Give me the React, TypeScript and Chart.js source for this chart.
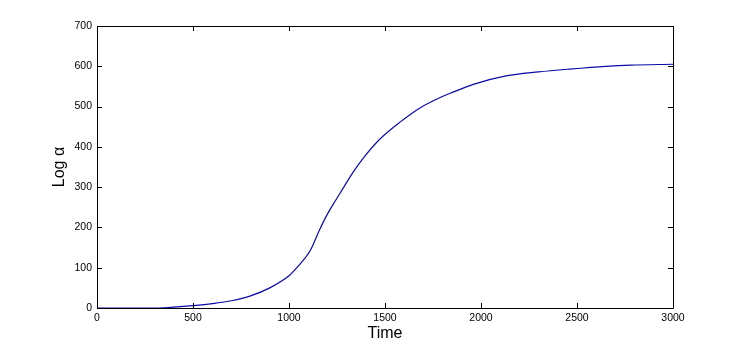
import React, { useEffect, useRef } from "react";
import { Chart, registerables } from "chart.js";

Chart.register(...registerables);

const times = [0, 100, 200, 300, 350, 400, 500, 600, 700, 800, 900, 1000, 1050, 1110, 1160, 1200, 1240, 1275, 1335, 1390, 1475, 1580, 1680, 1790, 1840, 1960, 2130, 2300, 2460, 2650, 2780, 3000];
const logAlpha = [0, 0, 0, 0, 0.5, 2, 6, 11, 18, 30, 50, 80, 105, 142, 195, 233, 265, 292, 338, 374, 420, 462, 496, 523, 533, 555, 576, 586, 593, 600, 603, 605];
const xTicks = [0, 500, 1000, 1500, 2000, 2500, 3000];
const yTicks = [0, 100, 200, 300, 400, 500, 600, 700];
const xTitle = "Time";
const yTitle = "Log α";

const FONT = "'Liberation Sans', Arial, Helvetica, sans-serif";

const boxPlugin = {
  id: "matlabBox",
  afterDraw(chart: any) {
    const { ctx, chartArea } = chart;
    const { left, right, top, bottom } = chartArea;
    const xs = chart.scales.x;
    const ys = chart.scales.y;
    ctx.save();
    ctx.strokeStyle = "#000";
    ctx.lineWidth = 1;
    ctx.beginPath();
    ctx.rect(Math.round(left) + 0.5, Math.round(top) + 0.5, Math.round(right - left), Math.round(bottom - top));
    ctx.stroke();
    const tl = 5;
    ctx.beginPath();
    xTicks.forEach((v) => {
      const px = Math.round(xs.getPixelForValue(v)) + 0.5;
      ctx.moveTo(px, bottom);
      ctx.lineTo(px, bottom - tl);
      ctx.moveTo(px, top);
      ctx.lineTo(px, top + tl);
    });
    yTicks.forEach((v) => {
      const py = Math.round(ys.getPixelForValue(v)) + 0.5;
      ctx.moveTo(left, py);
      ctx.lineTo(left + tl, py);
      ctx.moveTo(right, py);
      ctx.lineTo(right - tl, py);
    });
    ctx.stroke();
    ctx.restore();
  },
};

export default function App() {
  const ref = useRef<HTMLCanvasElement | null>(null);
  useEffect(() => {
    if (!ref.current) return;
    const chart = new Chart(ref.current, {
      type: "line",
      data: {
        datasets: [
          {
            data: times.map((t, i) => ({ x: t, y: logAlpha[i] })),
            borderColor: "#0a0aa8",
            borderWidth: 1.2,
            pointRadius: 0,
            cubicInterpolationMode: "monotone",
            fill: false,
          },
        ],
      },
      options: {
        animation: false,
        responsive: false,
        maintainAspectRatio: false,
        layout: { padding: { left: 0, right: 71, top: 26, bottom: 0 } },
        plugins: { legend: { display: false }, tooltip: { enabled: false } },
        scales: {
          x: {
            type: "linear",
            min: 0,
            max: 3000,
            afterBuildTicks: (s: any) => {
              s.ticks = xTicks.map((v) => ({ value: v }));
            },
            afterFit: (s: any) => {
              s.height = 38;
            },
            grid: { display: false, drawTicks: false },
            border: { display: false },
            ticks: {
              color: "#000",
              font: { family: FONT, size: 10.5 },
              padding: 4,
              maxRotation: 0,
              callback: (v: any) => String(v),
            },
            title: { display: true, text: xTitle, color: "#000", font: { family: FONT, size: 16 }, padding: { top: 0, bottom: 3 } },
          },
          y: {
            type: "linear",
            min: 0,
            max: 700,
            afterBuildTicks: (s: any) => {
              s.ticks = yTicks.map((v) => ({ value: v }));
            },
            afterFit: (s: any) => {
              s.width = 97;
            },
            grid: { display: false, drawTicks: false },
            border: { display: false },
            ticks: { color: "#000", font: { family: FONT, size: 10.5 }, padding: 5, callback: (v: any) => String(v) },
            title: { display: true, text: yTitle, color: "#000", font: { family: FONT, size: 16 }, padding: { top: 50, bottom: 0 } },
          },
        },
      },
      plugins: [boxPlugin],
    } as any);
    return () => chart.destroy();
  }, []);
  return (
    <div style={{ position: "absolute", left: 0, top: 0, width: 744, height: 346, background: "#fff" }}>
      <canvas ref={ref} width={744} height={346} style={{ width: 744, height: 346, display: "block" }} />
    </div>
  );
}
